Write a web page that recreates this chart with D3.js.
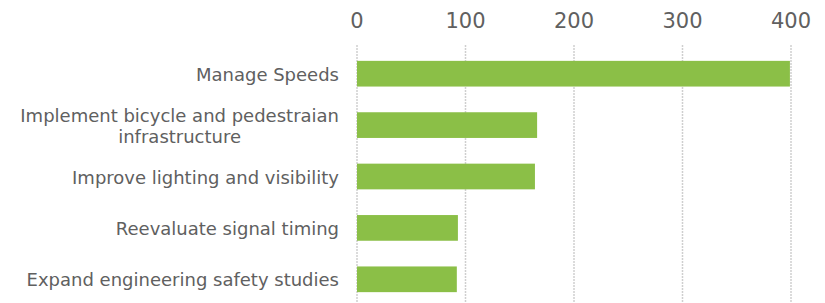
<!DOCTYPE html>
<html>
<head>
<meta charset="utf-8">
<script src="https://cdn.jsdelivr.net/npm/d3@7"></script>
<style>
  body { margin: 0; background: #fff; }
  svg { display: block; }
</style>
</head>
<body>
<svg id="chart" width="825" height="303"></svg>
<script>
// chart data
const categories = [
    "Manage Speeds",
    "Implement bicycle and pedestraian infrastructure",
    "Improve lighting and visibility",
    "Reevaluate signal timing",
    "Expand engineering safety studies"
];
const labelLines = [
    ["Manage Speeds"],
    ["Implement bicycle and pedestraian", "infrastructure"],
    ["Improve lighting and visibility"],
    ["Reevaluate signal timing"],
    ["Expand engineering safety studies"]
];
const values = [399, 166, 164, 93, 92];
const tickValues = [0, 100, 200, 300, 400];

const svg = d3.select("#chart");
const font = "DejaVu Sans, sans-serif";
const textColor = "#606060";

const x = d3.scaleLinear().domain([0, 400]).range([357, 791]);
const y = d3.scaleBand().domain(categories).range([48, 305])
    .paddingInner(0.5).paddingOuter(0.25);

// gridlines
svg.append("g")
    .selectAll("line")
    .data(tickValues)
    .join("line")
    .attr("x1", d => x(d)).attr("x2", d => x(d))
    .attr("y1", 45).attr("y2", 303)
    .attr("stroke", "#cfcfcf")
    .attr("stroke-width", 1.5)
    .attr("stroke-dasharray", "2,1");

// top axis labels
svg.append("g")
    .selectAll("text")
    .data(tickValues)
    .join("text")
    .attr("x", d => x(d))
    .attr("y", 28)
    .attr("text-anchor", "middle")
    .attr("font-family", font)
    .attr("font-size", 21)
    .attr("fill", textColor)
    .text(d => d);

// bars
svg.append("g")
    .selectAll("rect")
    .data(values)
    .join("rect")
    .attr("x", x(0))
    .attr("y", (d, i) => y(categories[i]))
    .attr("width", d => x(d) - x(0))
    .attr("height", y.bandwidth())
    .attr("fill", "#8bbf47");

// category labels
const labelRight = 339;
const lineHeight = 21;
const labels = svg.append("g");
categories.forEach((c, i) => {
    const lines = labelLines[i];
    const cy = y(c) + y.bandwidth() / 2;
    const y0 = cy - (lines.length - 1) * lineHeight / 2;
    const t = labels.append("text")
        .attr("font-family", font)
        .attr("font-size", 18)
        .attr("fill", textColor)
        .attr("dominant-baseline", "central");
    const spans = lines.map((ln, j) => t.append("tspan").attr("y", y0 + j * lineHeight).text(ln));
    if (lines.length === 1) {
        t.attr("text-anchor", "end");
        spans[0].attr("x", labelRight);
    } else {
        const w = spans[0].node().getComputedTextLength();
        t.attr("text-anchor", "middle");
        spans.forEach(s => s.attr("x", labelRight - w / 2));
    }
});
</script>
</body>
</html>
